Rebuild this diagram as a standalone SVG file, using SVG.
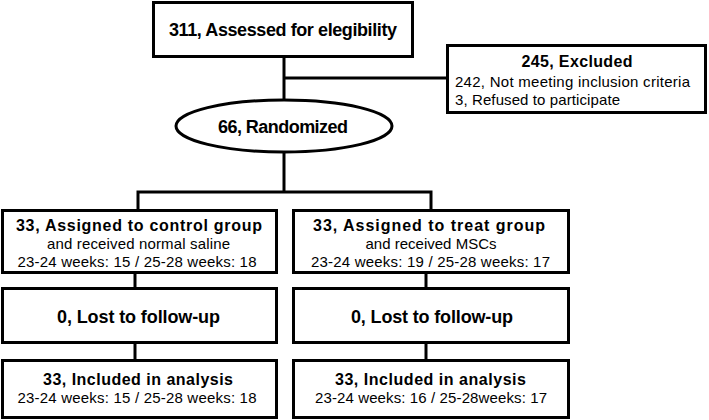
<svg xmlns="http://www.w3.org/2000/svg" width="709" height="420" viewBox="0 0 709 420">
<style>
.box{fill:#fff;stroke:#000;stroke-width:3}
.ln{fill:none;stroke:#000;stroke-width:3}
text{font-family:"Liberation Sans",Arial,sans-serif;fill:#000}
.b{font-weight:bold;font-size:16px}
.big{font-weight:bold;font-size:18px}
.n{font-size:15px}
.c{text-anchor:middle}
</style>
<rect width="709" height="420" fill="#fff"/>
<g id="connectors">
<path class="ln" d="M284 57V100"/>
<path class="ln" d="M284 78H447"/>
<path class="ln" d="M284 152V192"/>
<path class="ln" d="M138 210V192H431V210"/>
<path class="ln" d="M135 273V288"/>
<path class="ln" d="M426 273V288"/>
<path class="ln" d="M135 343V360"/>
<path class="ln" d="M426 343V360"/>
</g>
<g id="assessed">
<rect class="box" x="153.5" y="2.5" width="259" height="54"/>
<text class="big c" x="283" y="36" textLength="228">311, Assessed for elegibility</text>
</g>
<g id="excluded">
<rect class="box" x="447.5" y="45.5" width="258" height="67"/>
<text class="b c" x="577" y="67" textLength="111">245, Excluded</text>
<text class="n" x="455" y="87" textLength="235">242, Not meeting inclusion criteria</text>
<text class="n" x="455" y="105" textLength="165">3, Refused to participate</text>
</g>
<g id="randomized">
<ellipse class="box" cx="284" cy="126" rx="108" ry="26"/>
<text class="big c" x="283" y="133" textLength="130">66, Randomized</text>
</g>
<g id="control">
<rect class="box" x="2.5" y="210.5" width="274" height="62"/>
<text class="b c" x="139" y="231" textLength="246">33, Assigned to control group</text>
<text class="n c" x="138.5" y="249" textLength="183">and received normal saline</text>
<text class="n c" x="137" y="267" textLength="239">23-24 weeks: 15 / 25-28 weeks: 18</text>
</g>
<g id="treat">
<rect class="box" x="293.5" y="210.5" width="275" height="62"/>
<text class="b c" x="429" y="231" textLength="232">33, Assigned to treat group</text>
<text class="n c" x="431" y="249" textLength="131">and received MSCs</text>
<text class="n c" x="430.5" y="267" textLength="239">23-24 weeks: 19 / 25-28 weeks: 17</text>
</g>
<g id="lost-control">
<rect class="box" x="2.5" y="288.5" width="274" height="54"/>
<text class="big c" x="138.5" y="323" textLength="163">0, Lost to follow-up</text>
</g>
<g id="lost-treat">
<rect class="box" x="293.5" y="288.5" width="275" height="54"/>
<text class="big c" x="432" y="323" textLength="162">0, Lost to follow-up</text>
</g>
<g id="included-control">
<rect class="box" x="2.5" y="360.5" width="274" height="57"/>
<text class="b c" x="138" y="385" textLength="190">33, Included in analysis</text>
<text class="n c" x="137" y="403" textLength="239">23-24 weeks: 15 / 25-28 weeks: 18</text>
</g>
<g id="included-treat">
<rect class="box" x="293.5" y="360.5" width="275" height="57"/>
<text class="b c" x="430.5" y="385" textLength="191">33, Included in analysis</text>
<text class="n c" x="431" y="403" textLength="232">23-24 weeks: 16 / 25-28weeks: 17</text>
</g>
</svg>
